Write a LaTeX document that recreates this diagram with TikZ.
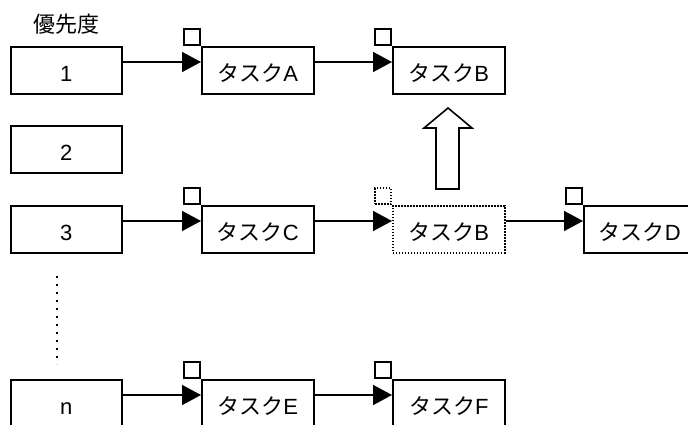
\documentclass[tikz,border=0pt]{standalone}
\usepackage{fontspec}
\setmainfont{Liberation Sans}
\newfontfamily\jpfont{Noto Sans CJK JP}
\usetikzlibrary{arrows.meta}
\newcommand{\tsk}[1]{{\jpfont タスク}#1}
\begin{document}
\begin{tikzpicture}[x=1pt,y=-1pt,
  lw/.style={line width=1.6pt},
  txt/.style={font=\fontsize{22}{22}\selectfont, text height=22pt, text depth=0pt},
  box/.style={draw, lw, txt, minimum width=112pt, minimum height=47pt, inner sep=0pt, anchor=north west},
  prio/.style={box, minimum width=111pt},
  sq/.style={draw, lw, minimum size=16pt, inner sep=0pt, anchor=south east},
  dotbox/.style={dash pattern=on 1.6pt off 1.4pt},
  arr/.style={lw, -{Triangle[length=19pt,width=20pt]}},
]
\useasboundingbox (0,0) rectangle (688,425);
\clip (0,0) rectangle (688,425);
\node[txt, inner sep=0pt] (title) at (66,21.5) {\jpfont 優先度};
% row 1
\node[prio] (p1) at (10,46) {1};
\node[box] (tA) at (201,46) {\tsk{A}};
\node[box] (tB1) at (392,46) {\tsk{B}};
% row 2
\node[prio] (p2) at (10,125) {2};
% row 3
\node[prio] (p3) at (10,205) {3};
\node[box] (tC) at (201,205) {\tsk{C}};
\node[box, dotbox] (tB3) at (392,205) {\tsk{B}};
\node[box] (tD) at (583,205) {\tsk{D}};
% row n
\node[prio] (pn) at (10,379) {n};
\node[box] (tE) at (201,379) {\tsk{E}};
\node[box] (tF) at (392,379) {\tsk{F}};
% small squares
\node[sq] (qA) at (tA.north west) {};
\node[sq] (qB1) at (tB1.north west) {};
\node[sq] (qC) at (tC.north west) {};
\node[sq, dotbox] (qB3) at (tB3.north west) {};
\node[sq] (qD) at (tD.north west) {};
\node[sq] (qE) at (tE.north west) {};
\node[sq] (qF) at (tF.north west) {};
% connectors
\draw[arr] ([yshift=-16pt]p1.north east) -- ([yshift=-16pt]tA.north west);
\draw[arr] ([yshift=-16pt]tA.north east) -- ([yshift=-16pt]tB1.north west);
\draw[arr] ([yshift=-16pt]p3.north east) -- ([yshift=-16pt]tC.north west);
\draw[arr] ([yshift=-16pt]tC.north east) -- ([yshift=-16pt]tB3.north west);
\draw[arr] ([yshift=-16pt]tB3.north east) -- ([yshift=-16pt]tD.north west);
\draw[arr] ([yshift=-16pt]pn.north east) -- ([yshift=-16pt]tE.north west);
\draw[arr] ([yshift=-16pt]tE.north east) -- ([yshift=-16pt]tF.north west);
% hollow up arrow
\draw[lw] (436,189) -- (436,128) -- (424,128) -- (448,108) -- (472,128) -- (459,128) -- (459,189) -- cycle;
% vertical dots
\draw[line width=1.6pt, dash pattern=on 1.6pt off 6.4pt] (57,276) -- (57,364);
\end{tikzpicture}
\end{document}
